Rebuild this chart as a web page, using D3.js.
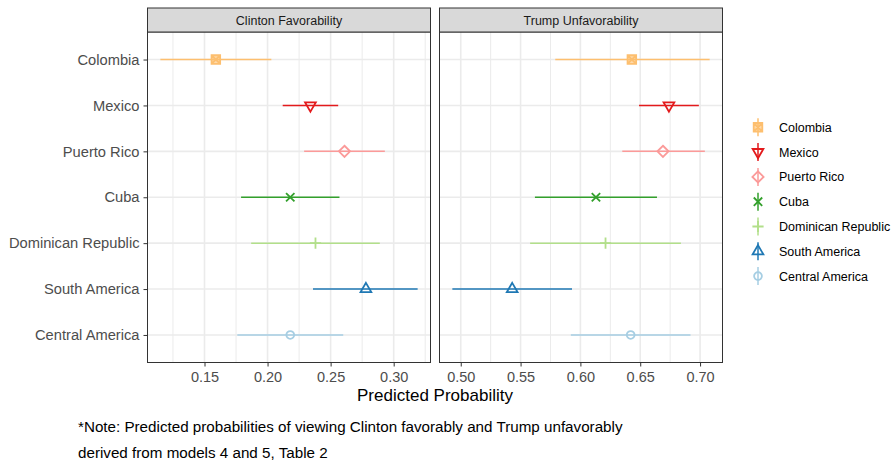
<!DOCTYPE html>
<html>
<head>
<meta charset="utf-8">
<script src="https://cdnjs.cloudflare.com/ajax/libs/d3/7.8.5/d3.min.js"></script>
<style>
  html, body { margin: 0; padding: 0; background: #ffffff; }
  svg { display: block; font-family: "Liberation Sans", Arial, Helvetica, sans-serif; }
</style>
</head>
<body>
<svg id="chart" width="896" height="461"></svg>
<script>
// Groups, top to bottom
const groups = ["Colombia", "Mexico", "Puerto Rico", "Cuba", "Dominican Republic", "South America", "Central America"];
const groupColors = ["#FDBF6F", "#E31A1C", "#FB9A99", "#33A02C", "#B2DF8A", "#1F78B4", "#A6CEE3"];
const groupShapes = ["squareCross", "triangleDown", "diamond", "cross", "plus", "triangleUp", "circle"];

// Panel titles
const panels = ["Clinton Favorability", "Trump Unfavorability"];

// Predicted probability with lower / upper interval, per group
const clintonEst = [0.159, 0.234, 0.261, 0.218, 0.238, 0.278, 0.218];
const clintonLow = [0.115, 0.212, 0.229, 0.179, 0.187, 0.236, 0.176];
const clintonHigh = [0.203, 0.256, 0.293, 0.257, 0.289, 0.319, 0.260];

const trumpEst = [0.643, 0.674, 0.669, 0.613, 0.621, 0.543, 0.642];
const trumpLow = [0.579, 0.649, 0.635, 0.562, 0.558, 0.493, 0.592];
const trumpHigh = [0.708, 0.699, 0.704, 0.664, 0.684, 0.593, 0.692];

// Axis tick values per panel
const clintonTicks = [0.15, 0.20, 0.25, 0.30];
const trumpTicks = [0.50, 0.55, 0.60, 0.65, 0.70];

const axisTitle = "Predicted Probability";
const noteLines = [
  "*Note: Predicted probabilities of viewing Clinton favorably and Trump unfavorably",
  "derived from models 4 and 5, Table 2"
];

const svg = d3.select("#chart");

const stripTop = 8, stripH = 24;
const panelTop = stripTop + stripH, panelBottom = 362.5;
const panelBoxes = [{x0: 147.5, x1: 430.5}, {x0: 439.5, x1: 722.5}];

const panelData = [
  {est: clintonEst, lo: clintonLow, hi: clintonHigh, ticks: clintonTicks},
  {est: trumpEst, lo: trumpLow, hi: trumpHigh, ticks: trumpTicks}
];

const y = d3.scalePoint().domain(groups).range([panelTop, panelBottom]).padding(0.6);

// symbol paths centred at 0,0
function shapePath(shape) {
  switch (shape) {
    case "circle": {
      const r = 3.9;
      return `M${r},0A${r},${r},0,1,1,${-r},0A${r},${r},0,1,1,${r},0Z`;
    }
    case "triangleUp": {
      const s = 6.2;
      return `M0,${-s}L${s * 0.866},${s * 0.5}L${-s * 0.866},${s * 0.5}Z`;
    }
    case "triangleDown": {
      const s = 6.2;
      return `M0,${s}L${s * 0.866},${-s * 0.5}L${-s * 0.866},${-s * 0.5}Z`;
    }
    case "diamond": {
      const s = 5.6;
      return `M0,${-s}L${s},0L0,${s}L${-s},0Z`;
    }
    case "cross": {
      const s = 4.2;
      return `M${-s},${-s}L${s},${s}M${-s},${s}L${s},${-s}`;
    }
    case "plus": {
      const s = 5.6;
      return `M${-s},0L${s},0M0,${-s}L0,${s}`;
    }
    case "squareCross": {
      const s = 4.3;
      return `M${-s},${-s}L${s},${-s}L${s},${s}L${-s},${s}Z` +
             `M${-s},${-s}L${s},${s}M${-s},${s}L${s},${-s}`;
    }
  }
  return "";
}

function shapeFill(i) {
  return groupShapes[i] === "squareCross" ? groupColors[i] : "none";
}
function shapeFillOpacity(i) {
  return groupShapes[i] === "squareCross" ? 0.6 : 0;
}

panelData.forEach((pd, pi) => {
  const box = panelBoxes[pi];
  const lo = d3.min(pd.lo), hi = d3.max(pd.hi);
  const pad = (hi - lo) * 0.05;
  const x = d3.scaleLinear().domain([lo - pad, hi + pad]).range([box.x0, box.x1]);

  const g = svg.append("g");

  // panel background
  g.append("rect").attr("x", box.x0).attr("y", panelTop)
    .attr("width", box.x1 - box.x0).attr("height", panelBottom - panelTop)
    .attr("fill", "#ffffff");

  // minor grid
  const major = pd.ticks;
  const step = major[1] - major[0];
  const minor = [];
  for (let v = major[0] - step / 2; v <= x.domain()[1]; v += step) {
    if (v >= x.domain()[0]) minor.push(v);
  }
  g.selectAll(".minor").data(minor).join("line")
    .attr("x1", d => x(d)).attr("x2", d => x(d))
    .attr("y1", panelTop).attr("y2", panelBottom)
    .attr("stroke", "#EBEBEB").attr("stroke-width", 1);

  // major grid
  g.selectAll(".majorx").data(major).join("line")
    .attr("x1", d => x(d)).attr("x2", d => x(d))
    .attr("y1", panelTop).attr("y2", panelBottom)
    .attr("stroke", "#EBEBEB").attr("stroke-width", 1.6);
  g.selectAll(".majory").data(groups).join("line")
    .attr("x1", box.x0).attr("x2", box.x1)
    .attr("y1", d => y(d)).attr("y2", d => y(d))
    .attr("stroke", "#EBEBEB").attr("stroke-width", 1.6);

  // interval lines
  g.selectAll(".interval").data(groups).join("line")
    .attr("x1", (d, i) => x(pd.lo[i])).attr("x2", (d, i) => x(pd.hi[i]))
    .attr("y1", d => y(d)).attr("y2", d => y(d))
    .attr("stroke", (d, i) => groupColors[i]).attr("stroke-width", 1.5);

  // point estimates
  g.selectAll(".est").data(groups).join("path")
    .attr("transform", (d, i) => `translate(${x(pd.est[i])},${y(d)})`)
    .attr("d", (d, i) => shapePath(groupShapes[i]))
    .attr("fill", (d, i) => shapeFill(i))
    .attr("fill-opacity", (d, i) => shapeFillOpacity(i))
    .attr("stroke", (d, i) => groupColors[i])
    .attr("stroke-width", 1.8);

  // panel border
  g.append("rect").attr("x", box.x0).attr("y", panelTop)
    .attr("width", box.x1 - box.x0).attr("height", panelBottom - panelTop)
    .attr("fill", "none").attr("stroke", "#333333").attr("stroke-width", 1);

  // strip
  g.append("rect").attr("x", box.x0).attr("y", stripTop)
    .attr("width", box.x1 - box.x0).attr("height", stripH)
    .attr("fill", "#D9D9D9").attr("stroke", "#333333").attr("stroke-width", 1);
  g.append("text").attr("x", (box.x0 + box.x1) / 2).attr("y", stripTop + stripH / 2 + 4.5)
    .attr("text-anchor", "middle").attr("font-size", 12.5).attr("fill", "#1A1A1A")
    .text(panels[pi]);

  // x axis
  const xAxis = d3.axisBottom(x).tickValues(major).tickFormat(d3.format(".2f"))
    .tickSize(4).tickPadding(5);
  const ax = svg.append("g").attr("transform", `translate(0,${panelBottom})`).call(xAxis);
  ax.select(".domain").remove();
  ax.selectAll(".tick line").attr("stroke", "#333333").attr("stroke-width", 1);
  ax.selectAll(".tick text").attr("fill", "#4D4D4D").attr("font-size", 14.5)
    .attr("font-family", "Liberation Sans, Arial, sans-serif");
});

// y axis on the left panel
const yAxis = d3.axisLeft(y).tickSize(4).tickPadding(4);
const ay = svg.append("g").attr("transform", `translate(${panelBoxes[0].x0},0)`).call(yAxis);
ay.select(".domain").remove();
ay.selectAll(".tick line").attr("stroke", "#333333").attr("stroke-width", 1);
ay.selectAll(".tick text").attr("fill", "#4D4D4D").attr("font-size", 14.7)
  .attr("font-family", "Liberation Sans, Arial, sans-serif");

// axis title
svg.append("text").attr("x", (panelBoxes[0].x0 + panelBoxes[1].x1) / 2).attr("y", 401)
  .attr("text-anchor", "middle").attr("font-size", 17).attr("fill", "#000000")
  .text(axisTitle);

// legend
const legendX = 758, legendY0 = 127.3, legendStep = 24.8;
const lg = svg.append("g");
groups.forEach((name, i) => {
  const cy = legendY0 + i * legendStep;
  lg.append("line").attr("x1", legendX).attr("x2", legendX)
    .attr("y1", cy - 9).attr("y2", cy + 9)
    .attr("stroke", groupColors[i]).attr("stroke-width", 1.5);
  lg.append("path").attr("transform", `translate(${legendX},${cy})`)
    .attr("d", shapePath(groupShapes[i]))
    .attr("fill", shapeFill(i))
    .attr("fill-opacity", shapeFillOpacity(i))
    .attr("stroke", groupColors[i]).attr("stroke-width", 1.8);
  lg.append("text").attr("x", 779).attr("y", cy + 4.5)
    .attr("font-size", 12.5).attr("fill", "#000000").text(name);
});

// note below the chart
svg.selectAll(".note").data(noteLines).join("text")
  .attr("x", 78).attr("y", (d, i) => 432 + i * 26)
  .attr("font-size", 15.2).attr("fill", "#000000")
  .text(d => d);
</script>
</body>
</html>
